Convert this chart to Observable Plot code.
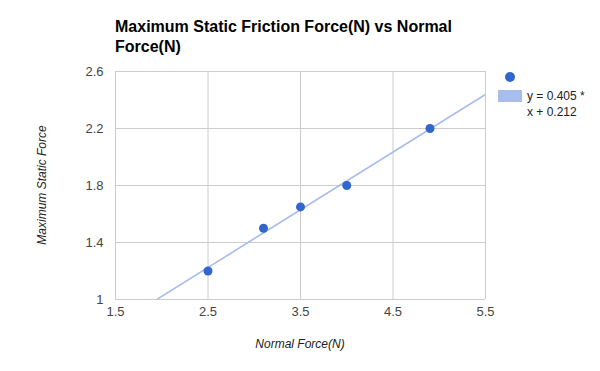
<!DOCTYPE html>
<html>
<head>
<meta charset="utf-8">
<script src="https://cdn.jsdelivr.net/npm/d3@7"></script>
<script src="https://cdn.jsdelivr.net/npm/@observablehq/plot@0.6"></script>
<style>
  html, body { margin: 0; padding: 0; background: #fff; }
  #wrap { position: relative; width: 600px; height: 371px; font-family: "Liberation Sans", Arial, sans-serif; overflow: hidden; }
  #wrap svg { position: absolute; left: 0; top: 0; }
  .title { position: absolute; left: 115px; top: 17px; font-size: 16px; font-weight: bold; line-height: 20px; color: #000; width: 360px; }
  .ylab { position: absolute; left: 42px; top: 185px; transform: translate(-50%, -50%) rotate(-90deg); font-size: 12px; font-style: italic; color: #222; white-space: nowrap; }
  .xlab { position: absolute; left: 300px; top: 337px; transform: translateX(-50%); font-size: 12px; font-style: italic; color: #222; white-space: nowrap; }
  .leg-dot { position: absolute; left: 505px; top: 72px; width: 10px; height: 10px; border-radius: 50%; background: #3366cc; }
  .leg-rect { position: absolute; left: 498px; top: 90px; width: 24px; height: 12px; background: #a8bdec; }
  .leg-text { position: absolute; left: 527px; top: 88px; font-size: 12px; line-height: 16px; color: #222; }
</style>
</head>
<body>
<div id="wrap">
  <div class="title">Maximum Static Friction Force(N) vs Normal Force(N)</div>
  <div class="ylab">Maximum Static Force</div>
  <div class="xlab">Normal Force(N)</div>
  <div class="leg-dot"></div>
  <div class="leg-rect"></div>
  <div class="leg-text">y = 0.405 *<br>x + 0.212</div>
</div>
<script>
const normalForce = [2.5, 3.1, 3.5, 4.0, 4.9];
const staticForce = [1.2, 1.5, 1.65, 1.8, 2.2];
const xTicks = [1.5, 2.5, 3.5, 4.5, 5.5];
const yTicks = [1, 1.4, 1.8, 2.2, 2.6];
const trendSlope = 0.405;
const trendIntercept = 0.212;

const points = normalForce.map((x, i) => ({x, y: staticForce[i]}));
const xDomain = [xTicks[0], xTicks[xTicks.length - 1]];
const trend = xDomain.map(x => ({x, y: trendSlope * x + trendIntercept}));

const chart = Plot.plot({
  width: 600,
  height: 371,
  marginTop: 71,
  marginBottom: 72,
  marginLeft: 115,
  marginRight: 115,
  style: {fontFamily: "'Liberation Sans', Arial, sans-serif", fontSize: "13px", color: "#444", background: "transparent"},
  x: {domain: xDomain, ticks: xTicks, tickFormat: d => String(d), label: null, tickSize: 0, tickPadding: 7},
  y: {domain: [yTicks[0], yTicks[yTicks.length - 1]], ticks: yTicks, tickFormat: d => String(d), label: null, tickSize: 0, tickPadding: 12},
  marks: [
    Plot.ruleX(xTicks, {stroke: "#cccccc", strokeWidth: 1}),
    Plot.ruleY(yTicks, {stroke: "#cccccc", strokeWidth: 1}),
    Plot.axisX({ticks: xTicks, tickSize: 0, tickPadding: 7, tickFormat: d => String(d), fill: "#444", fontSize: 13}),
    Plot.axisY({ticks: yTicks, tickSize: 0, tickPadding: 12, tickFormat: d => String(d), fill: "#444", fontSize: 13}),
    Plot.line(trend, {x: "x", y: "y", stroke: "#a8bdec", strokeWidth: 1.6, clip: true}),
    Plot.dot(points, {x: "x", y: "y", r: 4.5, fill: "#3366cc", stroke: "none"})
  ]
});
document.getElementById("wrap").prepend(chart);
</script>
</body>
</html>
